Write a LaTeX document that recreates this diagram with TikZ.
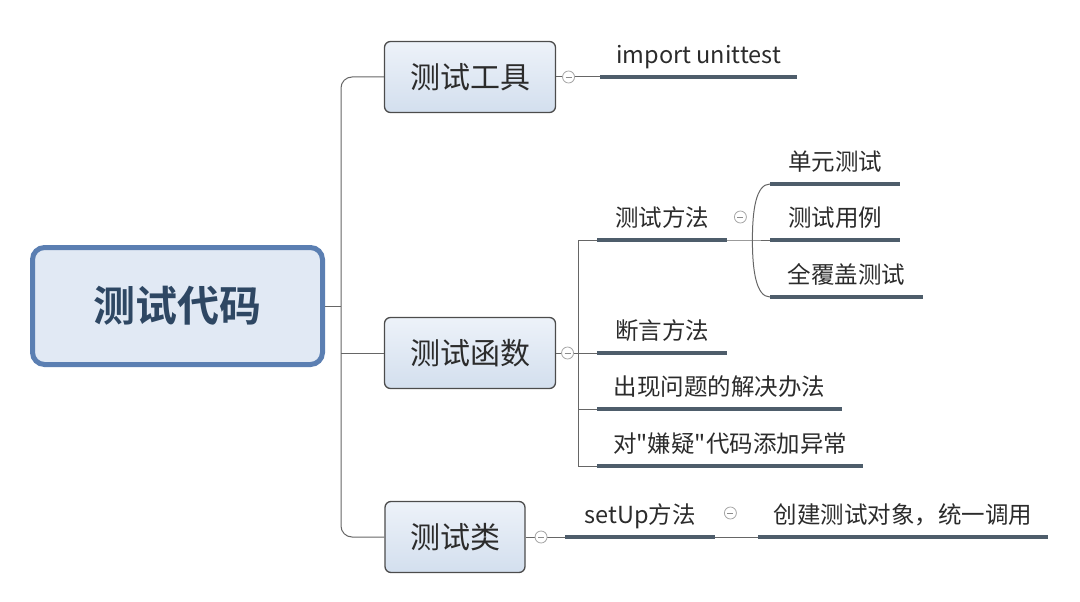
\documentclass[tikz,border=0pt]{standalone}
\usepackage{fontspec}
\setmainfont{Noto Sans CJK SC}[BoldFont={Noto Sans CJK SC Bold}, Ligatures=TeXOff]
\usetikzlibrary{positioning}

\definecolor{rootedge}{HTML}{5B7FB2}
\definecolor{rootfill}{HTML}{E1E9F4}
\definecolor{boxtop}{HTML}{EDF2F9}
\definecolor{boxbot}{HTML}{D3DFEE}
\definecolor{ulcol}{HTML}{4E5D6B}
\definecolor{txt}{HTML}{2B2B2B}
\definecolor{roottxt}{HTML}{2E4763}

\begin{document}
\begin{tikzpicture}[
            x = 1pt, y = -1pt, % pixel grid of the mind map
            conn/.style = {draw = black!60, line width = 1pt},
            uline/.style = {draw = ulcol, line width = 3.5pt},
            rootbox/.style = {draw = rootedge, line width = 5pt, rounded corners = 12pt,
                fill = rootfill, minimum width = 290pt, minimum height = 117pt,
                text = roottxt, font = \fontsize{42}{48}\selectfont\bfseries},
            topbox/.style = {draw = black!70, line width = 1.3pt, rounded corners = 6pt,
                top color = boxtop, bottom color = boxbot, minimum height = 71pt,
                text = txt, font = \fontsize{30}{36}\selectfont},
            topic/.style = {anchor = south west, inner xsep = 0pt, inner ysep = 13pt,
                text depth = 0pt, text = txt, font = \fontsize{23.5}{28}\selectfont},
            fold/.style = {circle, draw = black!35, line width = 0.8pt, fill = white,
                minimum size = 12pt, inner sep = 0pt,
                path picture = {\draw[black!45, line width = 0.8pt]
                    ([xshift=-3pt]path picture bounding box.center) --
                    ([xshift=3pt]path picture bounding box.center);}}
        ]
        \useasboundingbox (0,0) rectangle (1080,602);

        % main topics
        \node[rootbox] (root) at (177.5,306) {测试代码};
        \node[topbox, minimum width = 171pt] (tool) at (470,77) {测试工具};
        \node[topbox, minimum width = 171pt] (fn) at (470,353) {测试函数};
        \node[topbox, minimum width = 140pt] (cls) at (455,537) {测试类};

        % sub topics
        \node[topic, minimum width = 197pt] (imp) at (600,77) {import unittest};
        \node[topic, minimum width = 130pt] (meth) at (597,240) {测试方法};
        \node[topic, minimum width = 130pt] (ass) at (597,353) {断言方法};
        \node[topic, minimum width = 245pt] (fix) at (597,409) {出现问题的解决办法};
        \node[topic, minimum width = 266pt] (exc) at (597,466) {对"嫌疑"代码添加异常};
        \node[topic, minimum width = 130pt] (unit) at (770,184) {单元测试};
        \node[topic, minimum width = 130pt] (case) at (770,240) {测试用例};
        \node[topic, minimum width = 153pt] (cover) at (770,297) {全覆盖测试};
        \node[topic, minimum width = 150pt] (setup) at (565,537) {setUp方法};
        \node[topic, minimum width = 290pt] (create) at (758,537) {创建测试对象，统一调用};

        \foreach \t in {imp, meth, ass, fix, exc, unit, case, cover, setup, create}
            \draw[uline] (\t.south west) -- (\t.south east);

        % trunk from the root
        \coordinate (trunk) at (341,306);
        \draw[conn] (root.east) -- (trunk);
        \draw[conn, rounded corners = 11pt] (tool.west) -| (trunk) |- (cls.west);
        \draw[conn] (trunk |- fn.west) -- (fn.west);

        \draw[conn] (tool.east) -- (imp.south west);

        % branches of the test functions
        \coordinate (fbus) at (578,353);
        \draw[conn] (fn.east) -- (fbus);
        \draw[conn] (meth.south west) -| (fbus |- exc.south west) -- (exc.south west);
        \draw[conn] (fbus |- fix.south west) -- (fix.south west);
        \draw[conn] (fbus) -- (ass.south west);

        \coordinate (mbus) at ([xshift=25pt]meth.south east);
        \draw[conn] (meth.south east) -- (mbus) -- (case.south west);
        \draw[conn] (mbus) .. controls +(0,-30) and +(-14,0) .. (unit.south west);
        \draw[conn] (mbus) .. controls +(0,30) and +(-14,0) .. (cover.south west);

        \draw[conn] (cls.east) -- (setup.south west);
        \draw[conn] (setup.south east) -- (create.south west);

        % fold buttons
        \node[fold, right = 6pt of tool] (toolfold) {};
        \node[fold, right = 5pt of fn] (fnfold) {};
        \node[fold, right = 9pt of cls] (clsfold) {};
        \node[fold] (methfold) at ([shift={(13,-23)}]meth.south east) {};
        \node[fold] (setupfold) at ([shift={(15,-24)}]setup.south east) {};
    \end{tikzpicture}
\end{document}
